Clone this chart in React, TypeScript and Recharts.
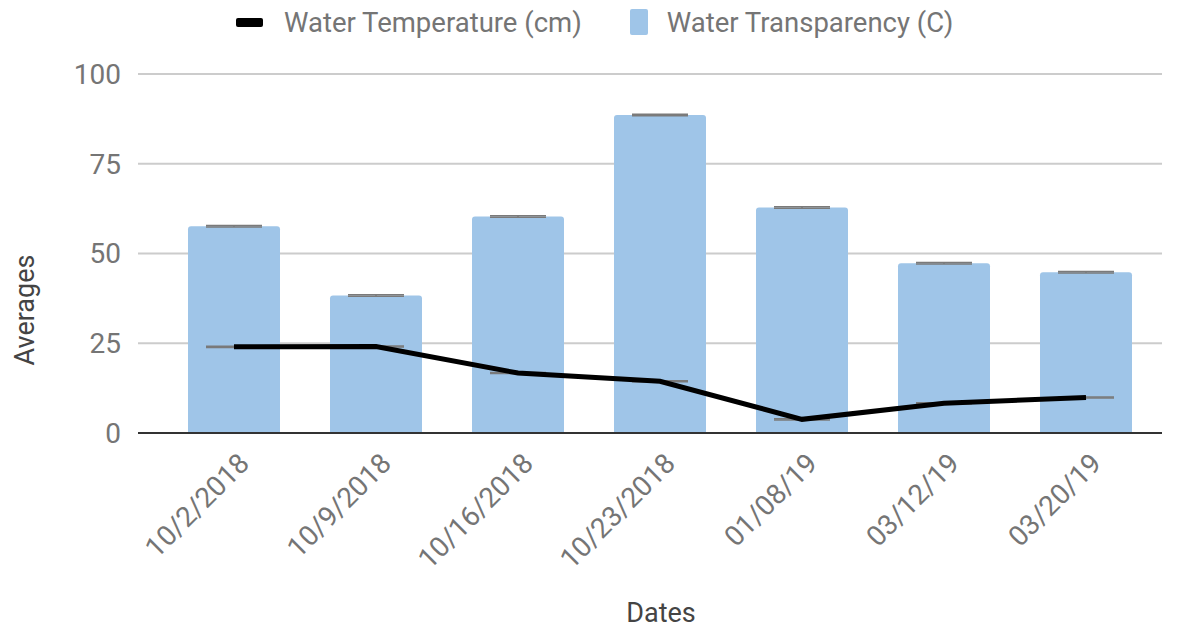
import React from "react";
import {
  ComposedChart,
  Bar,
  Line,
  XAxis,
  YAxis,
  CartesianGrid,
  ErrorBar,
} from "recharts";

const dates = ["10/2/2018", "10/9/2018", "10/16/2018", "10/23/2018", "01/08/19", "03/12/19", "03/20/19"];
const transparency = [57.6, 38.3, 60.3, 88.6, 62.8, 47.3, 44.8];
const temperature = [24.0, 24.1, 16.7, 14.4, 3.8, 8.3, 9.9];
const transparencyErr = [0.2, 0.2, 0.2, 0.2, 0.2, 0.2, 0.2];
const temperatureErr = [0.15, 0.15, 0.15, 0.15, 0.15, 0.15, 0.15];
const yTicks = [0, 25, 50, 75, 100];

const data = dates.map((d, i) => ({
  date: d,
  transparency: transparency[i],
  temperature: temperature[i],
  transErr: transparencyErr[i],
  tempErr: temperatureErr[i],
}));

const FONT = "Roboto, sans-serif";
const GRAY = "#757575";

function XTick({ x, y, payload }: any) {
  const ax = x + 17;
  const ay = y + 30;
  return (
    <text
      x={ax}
      y={ay}
      transform={`rotate(-45, ${ax}, ${ay})`}
      textAnchor="end"
      fill={GRAY}
      fontSize={28}
      fontFamily={FONT}
    >
      {payload.value}
    </text>
  );
}

function TopLegend() {
  return (
    <div
      style={{
        position: "absolute",
        left: 236,
        top: 4,
        height: 36,
        display: "flex",
        alignItems: "center",
        fontFamily: FONT,
        fontSize: 27.5,
        color: GRAY,
        whiteSpace: "nowrap",
      }}
    >
      <span style={{ width: 27, height: 9, background: "#000", borderRadius: 2, marginRight: 21 }} />
      <span style={{ marginRight: 48 }}>Water Temperature (cm)</span>
      <span style={{ width: 18, height: 26, background: "#9fc5e8", borderRadius: 2, marginRight: 19 }} />
      <span>Water Transparency (C)</span>
    </div>
  );
}

export default function App() {
  return (
    <div style={{ position: "absolute", left: 0, top: 0, width: 1177, height: 628, background: "#fff" }}>
      <ComposedChart
        width={1177}
        height={628}
        data={data}
        margin={{ top: 74, right: 15, left: 0, bottom: 0 }}
      >
        <CartesianGrid vertical={false} stroke="#cccccc" strokeWidth={2} />
        <XAxis
          dataKey="date"
          height={195}
          padding={{ left: 25, right: 5 }}
          tickLine={false}
          tickSize={0}
          axisLine={{ stroke: "#333333", strokeWidth: 2 }}
          tick={<XTick />}
          interval={0}
          label={{
            content: () => (
              <text x={661} y={622} textAnchor="middle" fill="#444" fontSize={27} fontFamily={FONT}>
                Dates
              </text>
            ),
          }}
        />
        <YAxis
          width={138}
          domain={[0, 100]}
          ticks={yTicks}
          tickLine={false}
          axisLine={false}
          tick={{ fill: GRAY, fontSize: 28, fontFamily: FONT }}
          tickMargin={11}
          label={{
            content: () => (
              <text
                x={34}
                y={310}
                transform="rotate(-90, 34, 310)"
                textAnchor="middle"
                fill="#444"
                fontSize={27}
                fontFamily={FONT}
              >
                Averages
              </text>
            ),
          }}
        />
        <Bar dataKey="transparency" fill="#9fc5e8" barSize={92} radius={[3, 3, 0, 0]} isAnimationActive={false}>
          <ErrorBar dataKey="transErr" width={28} stroke="#7a7a7a" strokeWidth={1.5} />
        </Bar>
        <Line
          dataKey="temperature"
          stroke="#000000"
          strokeWidth={5}
          dot={false}
          type="linear"
          isAnimationActive={false}
        >
          <ErrorBar dataKey="tempErr" width={28} stroke="#7a7a7a" strokeWidth={1.5} />
        </Line>
      </ComposedChart>
      <TopLegend />
    </div>
  );
}
